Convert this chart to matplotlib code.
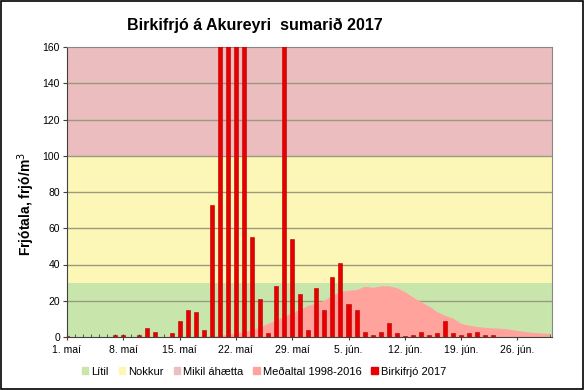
import matplotlib.pyplot as plt
import numpy as np
from matplotlib.patches import Patch

plt.rcParams['font.family'] = ['Liberation Sans', 'DejaVu Sans']

# daily values, 1 May (day 0) .. 30 June (day 60)
days = np.arange(61)

birch_2017 = [0.5, 0, 0, 0, 0, 0, 1, 1, 0, 1,
              5, 3, 0, 2, 9, 15, 14, 4, 73, 200,
              200, 200, 200, 55, 21, 2, 28, 200, 54, 24,
              4, 27, 15, 33, 41, 18, 15, 3, 1, 3,
              8, 2, 0.5, 1, 3, 1, 2, 9, 2, 1,
              2, 3, 1, 1, 0, 0, 0, 0, 0, 0,
              0]

mean_1998_2016 = [0, 0, 0, 0, 0, 0, 0, 0, 0, 0,
                  0, 0, 0, 0, 0.1, 0.1, 0.2, 0.3, 0.5, 1,
                  1.5, 2.2, 3, 4, 5.7, 7.5, 9.5, 11.5, 13.5, 15.5,
                  17.5, 18.8, 20.4, 23.2, 25.2, 25.8, 26.2, 28, 27.4, 28.2,
                  28.2, 27.2, 25, 22, 19.5, 17, 14, 12, 10.3, 7.5,
                  6.5, 5.8, 5.3, 5, 4.8, 4.3, 3.6, 3, 2.5, 2.2,
                  2]

tick_days = [0, 7, 14, 21, 28, 35, 42, 49, 56]
tick_labels = ['1. maí', '8. maí', '15. maí', '22. maí', '29. maí',
               '5. jún.', '12. jún.', '19. jún.', '26. jún.']

bands = [(0, 30), (30, 100), (100, 160)]
band_names = ['Lítil', 'Nokkur', 'Mikil áhætta']
band_colors = ['#C8E6AC', '#FCF7B6', '#EBBDBE']
mean_color = '#FFA39C'
bar_color = '#E80000'

fig = plt.figure(figsize=(5.85, 3.9), dpi=100)
ax = fig.add_axes([67 / 585, 1 - 337 / 390, (552 - 67) / 585, (337 - 47) / 390])

for (lo, hi), c in zip(bands, band_colors):
    ax.axhspan(lo, hi, color=c, zorder=0, lw=0)
for y in range(20, 160, 20):
    ax.axhline(y, color='#9A9A80', lw=1.0, zorder=1)

ax.fill_between(days, mean_1998_2016, 0, color=mean_color, lw=0, zorder=2)
ax.bar(days, birch_2017, width=0.5, color=bar_color, edgecolor='#B00000',
       lw=0.4, zorder=3)

ax.set_xlim(0, 60.3)
ax.set_ylim(0, 160)
ax.set_yticks(range(0, 161, 20))
ax.set_xticks(tick_days)
ax.set_xticklabels(tick_labels)
ax.set_xticks(days, minor=True)
ax.tick_params(axis='x', which='major', direction='inout', length=5,
               labelsize=7.5, pad=3, color='#404040')
ax.tick_params(axis='x', which='minor', direction='in', length=2,
               color='#404040')
ax.tick_params(axis='y', direction='out', length=3, labelsize=7.5,
               color='#404040', pad=2)
for s in ax.spines.values():
    s.set_color('#888888')
    s.set_linewidth(0.8)
ax.spines['left'].set_color('#404040')
ax.spines['bottom'].set_color('#404040')

ax.set_ylabel('Frjótala, frjó/m$^3$', fontsize=10, fontweight='bold')
ax.yaxis.set_label_coords(-0.062, 0.46)
fig.text(255 / 585, 0.935, 'Birkifrjó á Akureyri  sumarið 2017',
         fontsize=11.5, fontweight='bold', ha='center', va='center')

handles = [Patch(color=c) for c in band_colors] + [Patch(color=mean_color),
                                                   Patch(color=bar_color)]
labels = band_names + ['Meðaltal 1998-2016', 'Birkifrjó 2017']
fig.legend(handles, labels, loc='center', bbox_to_anchor=(264 / 585, 0.047),
           ncol=5, frameon=False, fontsize=8, handlelength=0.6,
           handleheight=0.6, handletextpad=0.25, columnspacing=0.9)

fig.patches.append(plt.Rectangle((0.002, 0.003), 0.995, 0.994,
                                 transform=fig.transFigure, fill=False,
                                 ec='black', lw=1.2))

fig.savefig('out.png', dpi=100)
